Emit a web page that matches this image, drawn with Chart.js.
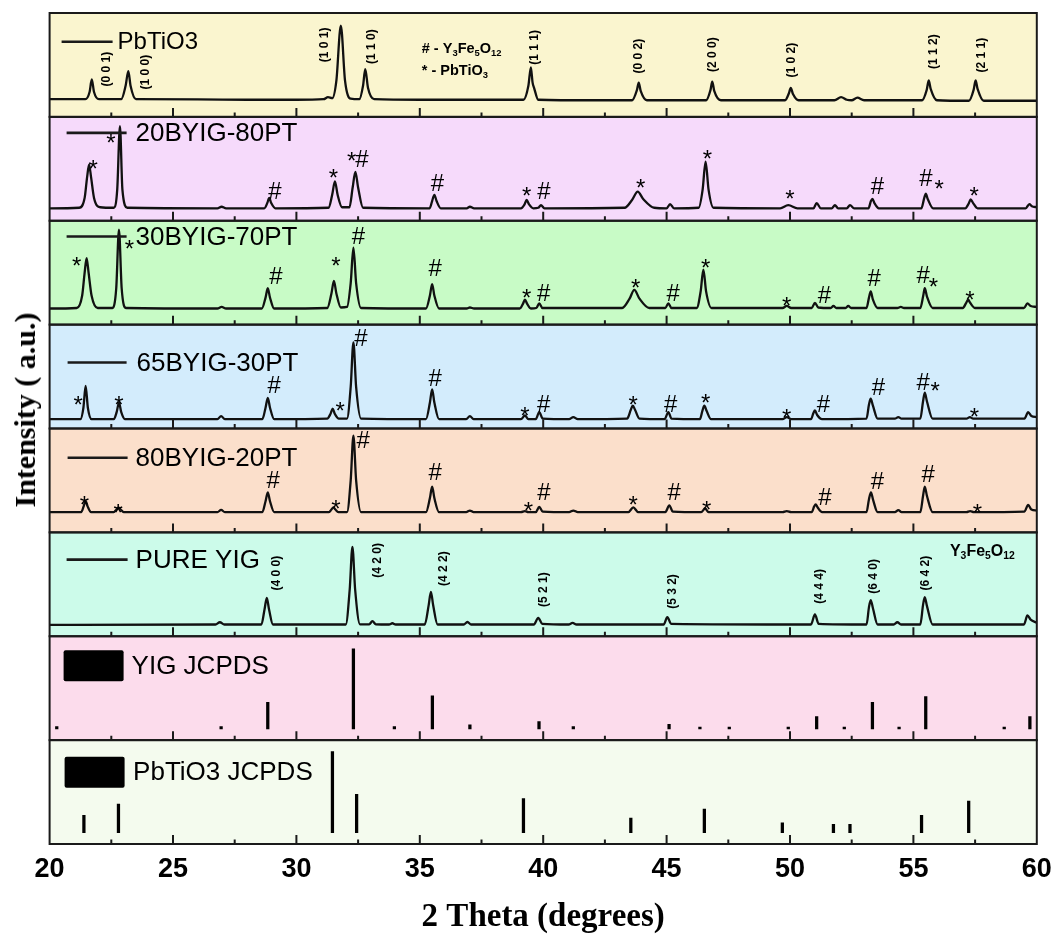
<!DOCTYPE html>
<html>
<head>
<meta charset="utf-8">
<script src="https://cdn.jsdelivr.net/npm/chart.js@4.4.1/dist/chart.umd.min.js"></script>
<style>
  html, body { margin: 0; padding: 0; background: #fff; }
  #wrap { position: relative; width: 1054px; height: 934px; }
  #yTitle {
    position: absolute; left: 25px; top: 410px;
    transform: translate(-50%, -50%) rotate(-90deg);
    font: bold 30px "Liberation Serif", "Times New Roman", serif;
    white-space: nowrap; color: #000;
  }
</style>
</head>
<body>
<div id="wrap">
  <canvas id="xrd" width="1054" height="934"></canvas>
  <div id="yTitle">Intensity ( a.u.)</div>
</div>
<script>
/* DATA  ([2theta, intensity] pairs, intensity in % of panel height) */

const panelNames = ["PbTiO3", "20BYIG-80PT", "30BYIG-70PT", "65BYIG-30PT", "80BYIG-20PT", "PURE YIG", "YIG JCPDS", "PbTiO3 JCPDS"];

const pbtio3 = [[20,17],[21.45,17],[21.62,24],[21.71,36],[21.8,24],[22.0,17],[22.9,17],[23.08,30],[23.19,44],[23.28,30],[23.5,17],
  [26,16.8],[28,16.5],[30,16.5],[31.1,17],[31.28,19],[31.45,18],[31.62,35],[31.8,87.8],[31.97,35],[32.2,17.5],[32.55,17],[32.7,30],
  [32.79,46],[32.9,28],[33.15,17],[35,16.5],[37,16.5],[39.2,16.5],[39.4,30],[39.5,47.6],[39.57,33],[39.63,28],[39.8,16.5],[42,16],
  [43.6,16],[43.8,26],[43.87,33],[43.95,25],[44.2,16],[46.6,16],[46.78,26],[46.85,34],[46.93,25],[47.2,16],[49.8,16],[49.96,23],
  [50.03,28],[50.12,22],[50.35,16],[51.8,16],[52.07,19],[52.3,16.5],[52.5,16],[52.73,18.5],[53.0,16],[55.35,16],[55.54,26],[55.62,35],
  [55.7,27],[55.95,16],[57.25,15.5],[57.44,26],[57.52,35],[57.6,27],[57.85,15.5],[60,15.5]];

const byig20 = [[20,12],[21.2,12.5],[21.42,22],[21.52,42],[21.6,54],[21.68,42],[21.8,22],[22.05,13],[22.6,12.5],[22.74,30],[22.85,91],
  [22.95,30],[23.15,12.5],[26.8,12],[26.97,13.5],[27.15,12],[28.7,12],[28.82,17],[28.9,22],[28.98,17],[29.15,12],[31.3,12.5],[31.45,25],
  [31.56,38],[31.67,25],[31.85,13],[32.15,13],[32.28,32],[32.39,47],[32.5,32],[32.7,12.5],[35.4,12],[35.5,19],[35.59,25],[35.68,19],
  [35.85,12],[36.9,12],[37.03,13.5],[37.2,12],[39.1,12],[39.25,16],[39.33,20],[39.42,16],[39.6,12],[39.8,12.5],[39.91,15],[40.05,12],
  [43.3,12.5],[43.6,20],[43.83,28],[44.05,21],[44.5,12.5],[45.0,12],[45.14,16],[45.3,12],[46.3,12.5],[46.46,30],[46.58,57],[46.7,30],
  [46.9,12.5],[49.6,12],[49.93,15],[50.3,12],[50.95,12],[51.08,17],[51.25,12],[51.7,12],[51.82,15],[51.95,12],[52.3,12],[52.43,15],
  [52.6,12],[53.18,12],[53.28,19],[53.34,21],[53.42,17],[53.6,12],[55.32,12],[55.44,22],[55.5,26],[55.58,21],[55.8,12],[57.1,12],
  [57.25,17],[57.32,20.5],[57.42,17],[57.6,12],[59.55,12],[59.7,16],[59.8,14],[60,13]];

const byig30 = [[20,15.5],[21.1,16],[21.32,28],[21.42,50],[21.5,64],[21.58,50],[21.7,28],[21.95,16],[22.55,16],[22.7,35],[22.81,91.5],
  [22.92,35],[23.1,16],[26.8,15.5],[26.97,17],[27.15,15.5],[28.6,15.5],[28.75,26],[28.84,35],[28.93,26],[29.1,15.5],[31.25,16],
  [31.42,30],[31.52,42],[31.62,30],[31.8,16.5],[32.05,17],[32.2,40],[32.31,74],[32.42,40],[32.62,16],[35.25,15.5],[35.41,28],[35.5,39],
  [35.59,28],[35.78,15.5],[36.9,15.5],[37.03,16.5],[37.2,15.5],[39.05,15.5],[39.18,20],[39.26,24],[39.35,20],[39.5,15.5],[39.72,16],
  [39.84,20.5],[39.97,16],[43.2,16],[43.5,25],[43.69,33.5],[43.9,25],[44.3,16],[44.95,16],[45.07,20.5],[45.2,16],[46.22,16],[46.38,32],
  [46.49,53],[46.6,32],[46.82,16],[49.7,16],[49.87,18],[50.05,16],[50.88,16],[51.01,21],[51.15,16.5],[51.65,16],[51.76,18],[51.88,16],
  [52.25,16],[52.36,18],[52.48,16],[53.1,16],[53.2,26],[53.27,32],[53.36,24],[53.55,16],[54.35,16],[54.49,17],[54.62,16],[55.28,16],
  [55.4,28],[55.46,35],[55.55,27],[55.78,16],[57.0,16],[57.14,21],[57.22,24],[57.3,21],[57.5,16],[59.48,16],[59.62,20.5],[59.75,18],[60,17]];

const byig65 = [[20,9],[21.25,9],[21.37,20],[21.46,41],[21.55,20],[21.7,9],[22.6,9],[22.72,16],[22.81,25],[22.9,16],[23.05,9],[26.8,9],
  [26.95,12],[27.1,9],[28.62,9],[28.75,20],[28.84,29.5],[28.93,20],[29.1,9],[31.25,9.5],[31.38,14],[31.47,19],[31.56,14],[31.72,9.5],
  [32.05,9.5],[32.2,40],[32.31,83],[32.42,40],[32.62,9.5],[35.25,9],[35.41,25],[35.5,37.7],[35.59,25],[35.78,9],[36.88,9],[37.03,12],
  [37.18,9],[39.1,9],[39.26,12.5],[39.4,9],[39.7,9],[39.84,15.7],[39.98,9.5],[41.05,9],[41.22,11],[41.4,9],[43.4,9.5],[43.55,18],
  [43.63,22],[43.72,18],[43.9,9.5],[44.92,9],[45.07,15.7],[45.2,9.5],[46.35,9],[46.45,17],[46.53,22],[46.62,17],[46.8,9],[49.7,9],
  [49.87,11],[50.05,9],[50.85,9],[50.95,15],[51.01,17.4],[51.1,13],[51.3,9],[53.1,9.5],[53.2,23],[53.27,28.7],[53.36,22],[53.55,9.5],
  [54.25,9.5],[54.39,11],[54.52,9.5],[55.28,9.5],[55.39,26],[55.46,34.5],[55.55,26],[55.78,9.5],[57.15,9.5],[57.29,11],[57.42,9.5],
  [59.5,9.5],[59.65,15.7],[59.78,12],[60,11]];

const byig80 = [[20,19.5],[21.28,19.5],[21.38,25],[21.46,30.4],[21.54,25],[21.68,19.5],[22.6,19.5],[22.71,22],[22.79,24],[22.88,22],
  [23.0,19.5],[26.8,19.5],[26.95,21.7],[27.1,19.5],[28.62,19.5],[28.75,30],[28.84,38.5],[28.93,30],[29.1,19.5],[31.32,19.5],[31.42,22],
  [31.5,24],[31.58,22],[31.7,19.5],[32.05,19.5],[32.2,50],[32.31,93],[32.42,50],[32.62,19.5],[35.25,19.5],[35.41,33],[35.5,44],[35.59,33],
  [35.78,19.5],[36.88,19.5],[37.03,21],[37.18,19.5],[39.1,19.5],[39.26,20.5],[39.4,19.5],[39.7,19.5],[39.84,24.6],[39.98,20],[41.05,19.5],
  [41.22,21],[41.4,19.5],[43.45,19.5],[43.65,24],[43.85,19.5],[44.95,19.5],[45.11,26],[45.25,20],[46.4,19.5],[46.56,23],[46.7,19.5],
  [49.7,19.5],[49.87,20.5],[50.05,19.5],[50.88,19.5],[50.98,25],[51.04,27],[51.12,24],[51.3,19.5],[53.1,19.5],[53.2,32],[53.28,38.5],
  [53.37,31],[53.55,19.5],[54.25,19.5],[54.39,21.5],[54.52,19.5],[55.28,19.5],[55.39,35],[55.46,44],[55.55,35],[55.78,19.5],[57.15,19.5],
  [57.3,20.5],[57.45,19.5],[59.5,20],[59.65,26.5],[59.78,22],[60,21]];

const pureYig = [[20,11],[26.72,11.3],[26.9,13.5],[27.08,11.3],[28.58,11.3],[28.71,26],[28.8,37],[28.89,26],[29.05,11.3],[32.0,11.3],
  [32.16,45],[32.27,86],[32.38,45],[32.58,11.5],[32.95,11.5],[33.08,14.5],[33.22,11.5],[33.75,11.3],[33.89,12.5],[34.02,11.3],[35.2,11.3],
  [35.36,30],[35.45,42.8],[35.54,30],[35.72,11.3],[36.78,11.3],[36.93,13.7],[37.08,11.3],[39.62,11.3],[39.8,17.7],[39.96,12],[41.03,11.3],
  [41.19,12.8],[41.35,11.3],[44.88,11.3],[45.03,18.4],[45.18,12],[50.85,11.3],[51.01,21],[51.16,12],[53.1,11.3],[53.2,28],[53.27,34.8],
  [53.36,27],[53.55,11.3],[54.2,11.3],[54.35,13.5],[54.5,11.3],[55.28,11.3],[55.39,30],[55.46,37.7],[55.55,29],[55.78,11.3],[59.48,11.3],
  [59.62,20],[59.75,16],[60,13]];

// reference stick patterns: [2theta, top]; sticks rise from the base value
const yigRefBase = 10.8;
const yigRef = [[20.29,13],[26.95,13],[28.84,36.5],[32.31,88],[33.97,13],[35.51,42.7],[37.03,14.7],[39.83,17.9],[41.22,13],[45.1,15.3],
  [46.35,12.5],[47.54,12.5],[49.93,12.5],[51.08,22.7],[52.2,12.5],[53.34,36.5],[54.42,12.5],[55.5,42],[58.68,12.5],[59.72,22.7]];
const ptRefBase = 10.9;
const ptRef = [[21.39,27.7],[22.79,38.4],[31.46,89],[32.44,47.7],[39.2,43.8],[43.55,25],[46.53,33.5],[49.69,20.3],[51.76,19],
  [52.43,19],[55.33,27.7],[57.24,41.3]];

// peak markers: [2theta, intensity, symbol]
const marks20 = [[22.48,80.7,"*"],[21.77,55,"*"],[29.13,29.2,"#"],[31.5,46.9,"*"],[32.24,63,"*"],[32.65,59.8,"#"],[35.71,37.3,"#"],
  [39.33,29.2,"*"],[40.03,29.2,"#"],[43.95,37.3,"*"],[46.65,64.7,"*"],[50.0,26.1,"*"],[53.54,34.1,"#"],[55.51,42.1,"#"],[56.04,36.3,"*"],[57.46,29.2,"*"]];
const marks30 = [[21.1,61.7,"*"],[23.23,77.8,"*"],[29.17,47.2,"#"],[31.6,61.7,"*"],[32.51,85.8,"#"],[35.62,55.2,"#"],[39.33,31.1,"*"],
  [40.02,31.1,"#"],[43.75,40.7,"*"],[45.27,31.1,"#"],[46.58,60,"*"],[49.87,23.1,"*"],[51.39,29.5,"#"],[53.41,45.6,"#"],[55.4,48.8,"#"],
  [55.81,41.7,"*"],[57.29,29.5,"*"]];
const marks65 = [[21.16,28.2,"*"],[22.81,28.2,"*"],[29.1,42.7,"#"],[31.77,22.4,"*"],[32.61,87.6,"#"],[35.62,49,"#"],[39.26,17.9,"*"],
  [40.02,24.3,"#"],[43.65,28.2,"*"],[45.17,24.3,"#"],[46.58,29.7,"*"],[49.87,15.3,"*"],[51.35,24.3,"#"],[53.58,41,"#"],[55.4,45.8,"#"],
  [55.88,41.7,"*"],[57.47,16.9,"*"]];
const marks80 = [[21.41,31.7,"*"],[22.78,24.5,"*"],[29.06,51,"#"],[31.6,28.4,"*"],[32.71,89.6,"#"],[35.62,59,"#"],[39.4,26.2,"*"],
  [40.03,39.7,"#"],[43.65,31.7,"*"],[45.31,39.7,"#"],[46.62,27.4,"*"],[51.42,34.8,"#"],[53.54,50,"#"],[55.6,56.4,"#"],[57.59,24.2,"*"]];

// Miller indices: [2theta, intensity, label]
const ptPlanes = [[22.31,45.9,"(0 0 1)"],[23.91,43.1,"(1 0 0)"],[31.16,69.3,"(1 0 1)"],[33.04,67.7,"(1 1 0)"],[39.67,66.9,"(1 1 1)"],
  [43.88,58.5,"(0 0 2)"],[46.88,59.9,"(2 0 0)"],[50.07,54.6,"(1 0 2)"],[55.83,62.8,"(1 1 2)"],[57.77,59.5,"(2 1 1)"]];
const yigPlanes = [[29.2,60.8,"(4 0 0)"],[33.28,73.1,"(4 2 0)"],[35.98,65.1,"(4 2 2)"],[40.03,44.8,"(5 2 1)"],[45.25,43.1,"(5 3 2)"],
  [51.19,48,"(4 4 4)"],[53.38,57.6,"(6 4 0)"],[55.5,60.8,"(6 4 2)"]];

// formula notes: [panel, 2theta, intensity, text]
const notes = [[0,35.08,65.3,"# - Y3Fe5O12"],[0,35.08,44.3,"* - PbTiO3"],[5,56.48,81.8,"Y3Fe5O12"]];

/* STYLE */

const PANEL_BG = ["#faf5cf", "#f6dafb", "#c8fbc6", "#d3ecfc", "#fbdfcb", "#ccfbea", "#fcdcec", "#f4fbee"];
const FONT = '"Liberation Sans", Arial, sans-serif';
// legend geometry per panel: [kind, x0, x1, textX, y (from panel top), fontSize]
const LEGEND = [
  ["line", 12, 63, 68, 28.7, 24],
  ["line", 17, 77, 86, 16, 26],
  ["line", 17, 77, 86, 15.7, 26],
  ["line", 18, 77, 87, 37.8, 26],
  ["line", 18, 78, 86, 29.2, 26],
  ["line", 17, 78, 86, 27.2, 26],
  ["box", 14, 74, 82, 29.6, 26],
  ["box", 15, 75, 83.5, 32.2, 26]
];
const markSets = [null, marks20, marks30, marks65, marks80, null, null, null];
const planeSets = [ptPlanes, null, null, null, null, yigPlanes, null, null];

const off = k => (7 - k) * 100;

/* DATASETS */

const traces = [pbtio3, byig20, byig30, byig65, byig80, pureYig];
const datasets = traces.map((pts, k) => ({
  type: "line",
  data: pts.map(p => ({ x: p[0], y: p[1] + off(k) })),
  borderColor: "#111",
  borderWidth: 2.3,
  pointRadius: 0,
  cubicInterpolationMode: "monotone",
  fill: false
}));
[[yigRef, yigRefBase, 6], [ptRef, ptRefBase, 7]].forEach(([pts, base, k]) => {
  datasets.push({
    type: "bar",
    data: pts.map(p => ({ x: p[0], y: [base + off(k), p[1] + off(k)] })),
    backgroundColor: "#000",
    borderWidth: 0,
    barThickness: 2.6,
    grouped: false
  });
});

function drawFormula(ctx, str, x, y, size) {
  let cx = x;
  str.match(/\d+|\D+/g).forEach(p => {
    const sub = /^\d/.test(p);
    ctx.font = `bold ${sub ? size * 0.65 : size}px ${FONT}`;
    ctx.fillText(p, cx, y + (sub ? size * 0.28 : 0));
    cx += ctx.measureText(p).width;
  });
}

/* PANELS PLUGIN */

const panelsPlugin = {
  id: "panels",
  beforeDatasetsDraw(chart) {
    const { ctx, chartArea: a, scales: { y } } = chart;
    ctx.save();
    PANEL_BG.forEach((c, k) => {
      const top = y.getPixelForValue(off(k) + 100), bot = y.getPixelForValue(off(k));
      ctx.fillStyle = c;
      ctx.fillRect(a.left, top, a.right - a.left, bot - top);
    });
    ctx.restore();
  },
  afterDatasetsDraw(chart) {
    const { ctx, chartArea: a, scales: { x, y } } = chart;
    ctx.save();
    ctx.fillStyle = "#000";
    ctx.strokeStyle = "#1a1a1a";

    PANEL_BG.forEach((c, k) => {
      const top = y.getPixelForValue(off(k) + 100), bot = y.getPixelForValue(off(k));

      // inward ticks
      ctx.lineWidth = 2;
      ctx.beginPath();
      x.ticks.forEach(t => {
        if (t.value <= 20 || t.value >= 60) return;
        const px = x.getPixelForValue(t.value);
        ctx.moveTo(px, bot);
        ctx.lineTo(px, bot - (t.value % 5 === 0 ? 9 : 4.5));
      });
      ctx.stroke();

      // frame
      ctx.strokeRect(a.left, top, a.right - a.left, bot - top);

      // legend
      const [kind, x0, x1, tx, ly, fs] = LEGEND[k];
      if (kind === "line") {
        ctx.lineWidth = 2.6;
        ctx.beginPath();
        ctx.moveTo(a.left + x0, top + ly);
        ctx.lineTo(a.left + x1, top + ly);
        ctx.stroke();
      } else {
        ctx.beginPath();
        ctx.roundRect(a.left + x0, top + ly - 15.5, x1 - x0, 31, 2);
        ctx.fill();
      }
      ctx.font = `${fs}px ${FONT}`;
      ctx.textAlign = "left";
      ctx.textBaseline = "middle";
      ctx.fillText(panelNames[k], a.left + tx, top + ly + 1);

      // peak markers
      if (markSets[k]) {
        ctx.font = `24px ${FONT}`;
        ctx.textAlign = "center";
        ctx.textBaseline = "alphabetic";
        markSets[k].forEach(([t, v, s]) => {
          const px = x.getPixelForValue(t), py = y.getPixelForValue(v + off(k));
          ctx.fillText(s, px, py + (s === "*" ? 0.57 : 0.36) * 24);
        });
      }

      // Miller indices
      if (planeSets[k]) {
        ctx.font = `bold 12px ${FONT}`;
        ctx.textAlign = "center";
        ctx.textBaseline = "middle";
        planeSets[k].forEach(([t, v, s]) => {
          ctx.save();
          ctx.translate(x.getPixelForValue(t), y.getPixelForValue(v + off(k)));
          ctx.rotate(-Math.PI / 2);
          ctx.fillText(s, 0, 0);
          ctx.restore();
        });
      }
    });

    ctx.textAlign = "left";
    ctx.textBaseline = "middle";
    notes.forEach(([k, t, v, s]) => {
      drawFormula(ctx, s, x.getPixelForValue(t), y.getPixelForValue(v + off(k)), k === 5 ? 16 : 14.5);
    });
    ctx.restore();
  }
};

/* CHART */

new Chart(document.getElementById("xrd"), {
  type: "line",
  data: { datasets },
  options: {
    responsive: false,
    animation: false,
    events: [],
    layout: { padding: { left: 49.6, right: 17.2, top: 13, bottom: 0 } },
    plugins: { legend: { display: false }, tooltip: { enabled: false } },
    scales: {
      x: {
        type: "linear",
        min: 20,
        max: 60,
        offset: false,
        grid: { display: false, drawTicks: false, offset: false },
        border: { display: false },
        afterFit: scale => { scale.paddingLeft = 0; scale.paddingRight = 0; },
        ticks: {
          stepSize: 2.5,
          autoSkip: false,
          maxRotation: 0,
          padding: 9,
          color: "#000",
          font: { family: FONT, weight: "bold", size: 27 },
          callback: v => (v % 5 === 0 ? v : "")
        },
        title: {
          display: true,
          text: "2 Theta (degrees)",
          color: "#000",
          font: { family: '"Liberation Serif", "Times New Roman", serif', weight: "bold", size: 33, lineHeight: 1 },
          padding: { top: 6.6, bottom: 0 }
        }
      },
      y: { min: 0, max: 800, display: false }
    }
  },
  plugins: [panelsPlugin]
});
</script>
</body>
</html>
